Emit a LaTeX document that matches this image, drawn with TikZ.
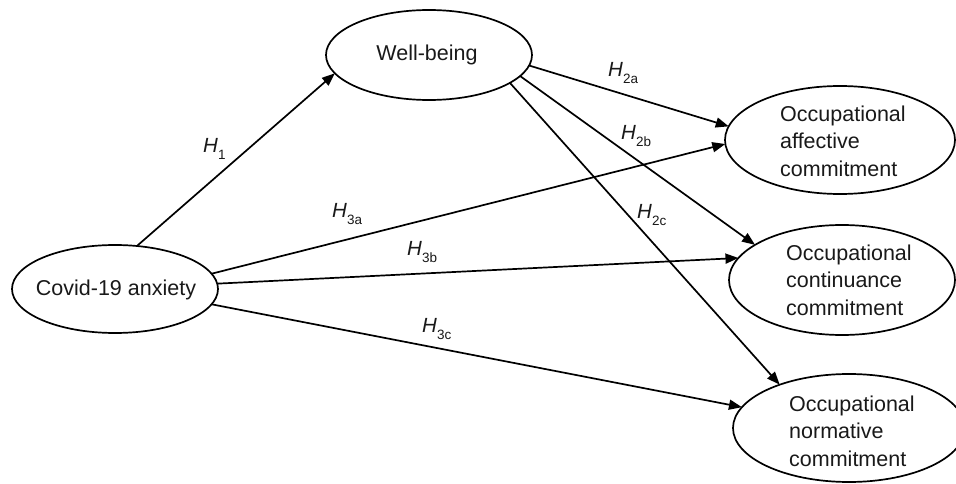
\documentclass[tikz,border=0pt]{standalone}
\usepackage{fontspec}
\setmainfont{Liberation Sans}
\usetikzlibrary{shapes.geometric,arrows.meta}
\tikzset{
  ell/.style={draw, ellipse, line width=1.7pt, inner sep=0pt, outer sep=0pt},
  txt/.style={font=\fontsize{21.5}{27.5}\selectfont, text=black!90, align=left, inner sep=0pt},
  arr/.style={line width=1.7pt, -{Triangle[length=13pt,width=10pt]}},
  hlab/.style={font=\fontsize{20.5}{20.5}\selectfont, text=black!90, inner sep=0pt, anchor=base west}
}
\newcommand{\hyp}[1]{\textit{H}\raisebox{-7pt}{\fontsize{13.5}{13.5}\selectfont #1}}
\begin{document}
\begin{tikzpicture}[x=1pt,y=-1pt]
\useasboundingbox (0,0) rectangle (956,484);
% ellipses
\node[ell, minimum width=206pt, minimum height=90pt] (wb) at (429,55) {};
\node[ell, minimum width=206pt, minimum height=88pt] (cov) at (115,289) {};
\node[ell, minimum width=230pt, minimum height=108pt] (aff) at (840,140) {};
\node[ell, minimum width=226pt, minimum height=110pt] (con) at (842,280) {};
\node[ell, minimum width=232pt, minimum height=108pt] (nor) at (849,428) {};
% texts
\node[txt] (wbt) at (427,55) {Well-being};
\node[txt] (covt) at (116,290) {Covid-19 anxiety};
\node[txt, anchor=west] (afft) at (780,141) {Occupational\\affective\\commitment};
\node[txt, anchor=west] (cont) at (786,280) {Occupational\\continuance\\commitment};
\node[txt, anchor=west] (nort) at (789,431) {Occupational\\normative\\commitment};
% arrows
\draw[arr] (cov.63.4) -- (wb.191.6);
\draw[arr] (wb.-6.8) -- (aff.173.9);
\draw[arr] (wb.-13.6) -- (con.158.7);
\draw[arr] (wb.-19.5) -- (nor.148.7);
\draw[arr] (cov.9.9) -- (aff.182.4);
\draw[arr] (cov.3.8) -- (con.168.7);
\draw[arr] (cov.-9.3) -- (nor.169.8);
% labels
\node[hlab] (h1) at (203,153) {\hyp{1}};
\node[hlab] (h2a) at (608,77) {\hyp{2a}};
\node[hlab] (h2b) at (621,140) {\hyp{2b}};
\node[hlab] (h2c) at (637,218) {\hyp{2c}};
\node[hlab] (h3a) at (332,217) {\hyp{3a}};
\node[hlab] (h3b) at (407,255) {\hyp{3b}};
\node[hlab] (h3c) at (422,332) {\hyp{3c}};
\end{tikzpicture}
\end{document}
